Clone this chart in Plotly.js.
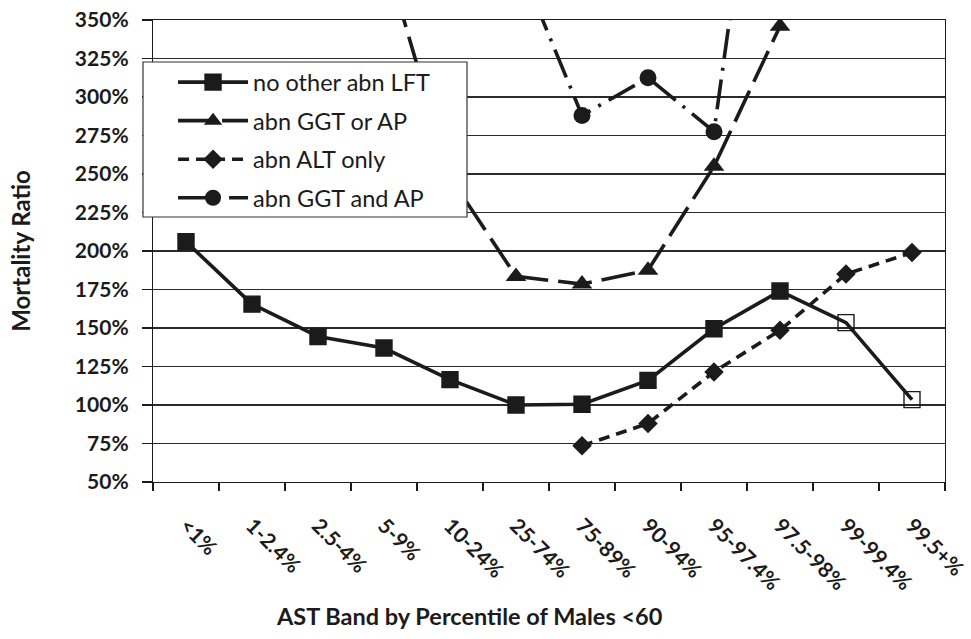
<!DOCTYPE html>
<html>
<head>
<meta charset="utf-8">
<script src="https://cdn.plot.ly/plotly-3.0.1.min.js"></script>
<style>
  html, body { margin: 0; padding: 0; background: #fff; }
  #chart { width: 971px; height: 639px; }
</style>
</head>
<body>
<div id="chart"></div>
<script>
// ---- Data ----
const categories = ['<1%', '1-2.4%', '2.5-4%', '5-9%', '10-24%', '25-74%', '75-89%', '90-94%', '95-97.4%', '97.5-98%', '99-99.4%', '99.5+%'];
const noOtherAbnLFT = [206, 165.5, 144.5, 137, 116.5, 100, 100.5, 116, 149.5, 174, 153.5, 103.5];
const abnGGTorAP    = [null, null, null, 394, 248, 183.5, 178.5, 187.5, 255, 346, null, null];
const abnALTonly    = [null, null, null, null, null, null, 73.5, 88, 121.5, 148.5, 185, 199];
const abnGGTandAP   = [null, null, null, null, null, 392, 288, 312.5, 277.5, 586, null, null];
const seriesNames = ['no other abn LFT', 'abn GGT or AP', 'abn ALT only', 'abn GGT and AP'];
const yTickValues = [50, 75, 100, 125, 150, 175, 200, 225, 250, 275, 300, 325, 350];

const FONT = 'Lato, "Open Sans", "DejaVu Sans", sans-serif';
const INK = '#1b1b1b';

const traces = [
  {
    x: categories, y: noOtherAbnLFT, name: seriesNames[0], legendgroup: 'g1',
    type: 'scatter', mode: 'lines+markers', connectgaps: false,
    line: { color: INK, width: 3.6, dash: 'solid' },
    marker: {
      symbol: noOtherAbnLFT.map((v, i) => i >= 10 ? 'square-open' : 'square'),
      size: 16, color: INK, line: { color: INK, width: 1.4 }
    }
  },
  {
    x: categories, y: abnGGTorAP, name: seriesNames[1], legendgroup: 'g2',
    type: 'scatter', mode: 'lines+markers', connectgaps: false,
    line: { color: INK, width: 3.6, dash: '34px,10px' },
    marker: { symbol: 'triangle-up', size: 18, color: INK }
  },
  {
    x: categories, y: abnALTonly, name: seriesNames[2], legendgroup: 'g3',
    type: 'scatter', mode: 'lines+markers', connectgaps: false,
    line: { color: INK, width: 3.6, dash: '11px,7px' },
    marker: { symbol: 'diamond', size: 15, color: INK }
  },
  {
    x: categories, y: abnGGTandAP, name: seriesNames[3], legendgroup: 'g4',
    type: 'scatter', mode: 'lines+markers', connectgaps: false,
    line: { color: INK, width: 3.6, dash: '30px,9px,3px,9px' },
    marker: { symbol: 'circle', size: 17, color: INK }
  }
];

const layout = {
  width: 971, height: 639,
  margin: { l: 153, r: 26, t: 20, b: 157 },
  paper_bgcolor: '#ffffff', plot_bgcolor: '#ffffff',
  font: { family: FONT, color: INK },
  showlegend: true,
  legend: {
    x: 0.0253, y: 0.9127, xanchor: 'left', yanchor: 'top',
    bgcolor: 'rgba(0,0,0,0)', borderwidth: 0,
    font: { family: FONT, size: 23.5, color: INK },
    tracegroupgap: 5, itemwidth: 70, traceorder: 'grouped'
  },
  shapes: [
    // legend frame (opaque box behind the legend entries)
    {
      type: 'rect', xref: 'paper', yref: 'paper', layer: 'above',
      x0: -0.01263, x1: 0.39646, y0: 0.5736, y1: 0.9091,
      fillcolor: '#ffffff', line: { color: '#333333', width: 1.2 }
    }
  ],
  xaxis: {
    type: 'category', categoryorder: 'array', categoryarray: categories,
    range: [-0.5, 11.5], fixedrange: true,
    showgrid: false, zeroline: false,
    showline: true, linecolor: INK, linewidth: 1.2, mirror: true,
    ticks: 'outside', tickson: 'boundaries', ticklen: 8, tickcolor: INK, tickwidth: 1.2,
    tickangle: 45, ticklabelstandoff: 22,
    tickfont: { family: FONT, size: 21, color: INK, weight: 'bold' }
  },
  yaxis: {
    range: [50, 350], fixedrange: true,
    tickmode: 'array', tickvals: yTickValues, ticktext: yTickValues.map(v => v + '%'),
    showgrid: true, gridcolor: '#2a2a2a', gridwidth: 1.2, zeroline: false,
    showline: true, linecolor: INK, linewidth: 1.2, mirror: true,
    ticks: 'outside', ticklen: 10, tickcolor: INK, tickwidth: 1.2,
    ticklabelstandoff: 9,
    tickfont: { family: FONT, size: 21, color: INK, weight: 'bold' },
    title: { text: 'Mortality Ratio', standoff: 37, font: { family: FONT, size: 24, color: INK, weight: 'bold' } }
  },
  annotations: [
    {
      text: 'AST Band by Percentile of Males <60',
      xref: 'paper', yref: 'paper', x: 0.400, y: -0.29,
      xanchor: 'center', yanchor: 'middle', showarrow: false,
      font: { family: FONT, size: 23.5, color: INK, weight: 'bold' }
    }
  ]
};

Plotly.newPlot('chart', traces, layout, { displayModeBar: false, staticPlot: true });
</script>
</body>
</html>
